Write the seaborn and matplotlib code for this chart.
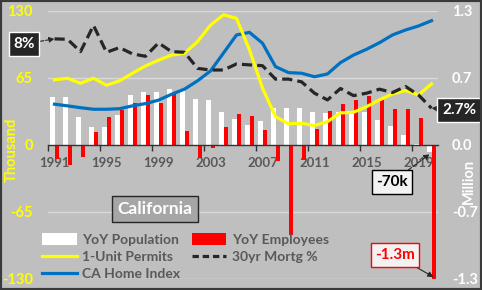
import matplotlib
matplotlib.use("Agg")
import matplotlib.pyplot as plt
import matplotlib.patches as mpatches
import matplotlib.lines as mlines
import numpy as np
import pandas as pd
import seaborn as sns

# ---------------- data ----------------
years = list(range(1991, 2021))
yoy_population = [0.465, 0.465, 0.27, 0.175, 0.175, 0.29, 0.48, 0.51, 0.51, 0.54,
                  0.52, 0.445, 0.435, 0.32, 0.25, 0.195, 0.23, 0.36, 0.36, 0.36,
                  0.32, 0.31, 0.32, 0.30, 0.32, 0.24, 0.18, 0.095, 0.01, -0.07]   # million
yoy_employees = [-0.135, -0.2, -0.12, 0.125, 0.27, 0.34, 0.41, 0.48, 0.41, 0.49,
                 0.135, -0.125, -0.03, 0.175, 0.30, 0.28, 0.145, -0.155, -0.87, -0.145,
                 0.155, 0.33, 0.40, 0.43, 0.47, 0.435, 0.35, 0.35, 0.26, -1.3]   # million
unit_permits = [63, 64.5, 59.7, 64.5, 57.8, 62, 69.4, 76.5, 82, 87,
                88.8, 100, 116, 126, 122.6, 92, 55, 27.4, 20.3, 21,
                18.7, 22.6, 31, 31.6, 37, 43.6, 49.4, 52.6, 48.4, 59]          # thousand
home_index = [0.394, 0.378, 0.36, 0.345, 0.345, 0.35, 0.378, 0.40, 0.433, 0.49,
              0.54, 0.62, 0.716, 0.89, 1.065, 1.09, 0.985, 0.758, 0.70, 0.694,
              0.66, 0.687, 0.797, 0.87, 0.926, 0.99, 1.065, 1.113, 1.152, 1.203]
mortgage_rate = [7.9, 7.87, 6.95, 8.9, 6.9, 7.25, 6.78, 6.6, 7.6, 6.95,
                 6.9, 5.7, 5.58, 5.58, 6.03, 5.96, 5.9, 4.9, 4.9, 4.7,
                 3.85, 3.35, 4.2, 3.67, 3.85, 4.15, 3.9, 4.35, 3.72, 2.73]    # percent

left_ticks = [130, 65, 0, -65, -130]
right_ticks = [1.3, 0.65, 0, -0.65, -1.3]
right_ticklabels = ["1.3", "0.7", "0.0", "-0.7", "-1.3"]
xtick_years = list(range(1991, 2021, 4))

BG = "#bfbfbf"
YEL = "#ffff00"
BLUE = "#0070c0"
RED = "#ff0000"
DARK = "#262626"
GRAYTXT = "#595959"

plt.rcParams["font.family"] = ["Lato", "DejaVu Sans"]

pos = np.arange(len(years))
df = pd.DataFrame({"year": years, "pos": pos, "pop": yoy_population,
                   "emp": yoy_employees, "permits": unit_permits,
                   "home": home_index, "mort": mortgage_rate})
bars = pd.concat([
    pd.DataFrame({"year": years, "val": yoy_population, "series": "YoY Population"}),
    pd.DataFrame({"year": years, "val": yoy_employees, "series": "YoY Employees"}),
])

fig = plt.figure(figsize=(4.82, 2.90), dpi=100, facecolor=BG)
fig.patches.append(mpatches.Rectangle((0, 0), 1, 1, transform=fig.transFigure,
                                      fill=False, edgecolor="#3a3a3a", lw=3, zorder=10))
ax = fig.add_axes([48 / 482, 1 - 279 / 290, 390 / 482, (279 - 10.7) / 290])
ax.set_facecolor(BG)

# bars (million scale)
sns.barplot(data=bars, x="year", y="val", hue="series", ax=ax,
            palette={"YoY Population": "white", "YoY Employees": RED},
            width=0.62, saturation=1, legend=False, errorbar=None, zorder=2)
ax.set_xlim(-0.5, len(years) - 0.5)
ax.set_ylim(-1.3, 1.3)

# grid
for v in [1.3, 0.65, -0.65, -1.3]:
    ax.axhline(v, color="#d9d9d9", lw=1, zorder=0)

# home index on the million scale
sns.lineplot(data=df, x="pos", y="home", ax=ax, color=BLUE, lw=2.3, zorder=4)

# thousand axis (left)
axL = ax.twinx()
axL.set_ylim(-130, 130)
sns.lineplot(data=df, x="pos", y="permits", ax=axL, color=YEL, lw=2.3)

# mortgage rate axis (hidden)
axM = ax.twinx()
axM.set_ylim(-10, 10)
sns.lineplot(data=df, x="pos", y="mort", ax=axM, color=DARK, lw=2.3,
             linestyle=(0, (3.2, 1.6)))

# ---- axis styling (after twins, since twinx moves ticks) ----
for a in (ax, axL, axM):
    a.set_xlabel("")
    a.set_ylabel("")
for s in ["top", "left", "right"]:
    ax.spines[s].set_visible(False)
for a in (axL, axM):
    for s in a.spines.values():
        s.set_visible(False)
ax.spines["bottom"].set_position(("data", 0))
ax.spines["bottom"].set_color("#333333")
ax.spines["bottom"].set_linewidth(1)
ax.spines["bottom"].set_zorder(3)
ax.set_xlim(-0.5, len(years) - 0.5)
ax.set_xticks(np.arange(-0.5, len(years) - 1, 4))
ax.set_xticklabels([])
ax.tick_params(axis="x", which="major", length=4, width=1, color="#333333", direction="out")
ax.set_xticks([years.index(y) for y in xtick_years], minor=True)
ax.set_xticklabels([str(y) for y in xtick_years], minor=True)
ax.tick_params(axis="x", which="minor", length=0, pad=9, labelsize=9.5, labelcolor=GRAYTXT)
for t in ax.get_xticklabels(minor=True):
    t.set_fontweight("bold")

ax.yaxis.tick_right()
ax.set_yticks(right_ticks)
ax.set_yticklabels(right_ticklabels)
ax.tick_params(axis="y", length=0, pad=10, labelsize=10.5, labelcolor="white")
for t in ax.get_yticklabels():
    t.set_fontweight("bold")

axL.yaxis.tick_left()
axL.set_yticks(left_ticks)
axL.set_yticklabels([str(v) for v in left_ticks])
axL.tick_params(axis="y", length=0, pad=11, labelsize=10.5, labelcolor=YEL)
for t in axL.get_yticklabels():
    t.set_fontweight("bold")
axM.set_yticks([])
axL.tick_params(axis="x", which="both", length=0, labelbottom=False)
axM.tick_params(axis="x", which="both", length=0, labelbottom=False)

# axis titles
fig.text(12 / 482, 1 - 150 / 290, "Thousand", rotation=90, color=YEL, fontsize=10.5,
         fontweight="bold", ha="center", va="center")
fig.text(469 / 482, 1 - 181 / 290, "Million", rotation=90, color="white", fontsize=10.5,
         fontweight="bold", ha="center", va="center")

# annotations
n = len(years) - 1
axM.annotate("8%", xy=(0, mortgage_rate[0]), xytext=(24, 246), textcoords="figure pixels",
             ha="center", va="center", color="white", fontsize=11, fontweight="bold",
             bbox=dict(boxstyle="square,pad=0.3", fc=DARK, ec="white", lw=1),
             arrowprops=dict(arrowstyle="-|>", color=DARK, lw=0.8, ls="--",
                             shrinkA=0, shrinkB=0, mutation_scale=8),
             annotation_clip=False, zorder=20)
axM.annotate("2.7%", xy=(n, mortgage_rate[n]), xytext=(459, 180), textcoords="figure pixels",
             ha="center", va="center", color="white", fontsize=11, fontweight="bold",
             bbox=dict(boxstyle="square,pad=0.3", fc=DARK, ec="white", lw=1),
             arrowprops=dict(arrowstyle="-|>", color=DARK, lw=0.8, ls="--",
                             shrinkA=0, shrinkB=0, mutation_scale=8),
             annotation_clip=False, zorder=20)
axM.annotate("-70k", xy=(n - 0.15, -0.7), xytext=(392, 108), textcoords="figure pixels",
             ha="center", va="center", color="black", fontsize=11, fontweight="bold",
             bbox=dict(boxstyle="square,pad=0.3", fc="#f2f2f2", ec="black", lw=1),
             arrowprops=dict(arrowstyle="-|>", color=DARK, lw=0.8, ls="--",
                             shrinkA=0, shrinkB=0, mutation_scale=8),
             annotation_clip=False, zorder=20)
axM.annotate("-1.3m", xy=(n + 0.15, -9.85), xytext=(395, 35), textcoords="figure pixels",
             ha="center", va="center", color=RED, fontsize=11, fontweight="bold",
             bbox=dict(boxstyle="square,pad=0.3", fc="#f2f2f2", ec=RED, lw=1),
             arrowprops=dict(arrowstyle="-|>", color=DARK, lw=0.8,
                             shrinkA=0, shrinkB=0, mutation_scale=8),
             annotation_clip=False, zorder=20)
fig.text(155 / 482, 1 - 209 / 290, "California", color="white", fontsize=12.5,
         fontweight="bold", ha="center", va="center",
         bbox=dict(boxstyle="square,pad=0.3", fc="#a6a6a6", ec=DARK, lw=1))

# legend
handles = [
    mpatches.Patch(fc="white", ec="none", label="YoY Population"),
    mlines.Line2D([], [], color=YEL, lw=2.3, label="1-Unit Permits"),
    mlines.Line2D([], [], color=BLUE, lw=2.3, label="CA Home Index"),
    mpatches.Patch(fc=RED, ec="none", label="YoY Employees"),
    mlines.Line2D([], [], color=DARK, lw=2.3, ls=(0, (2, 1.2)), label="30yr Mortg %"),
]
leg = fig.legend(handles=handles, ncol=2, frameon=False, loc="upper left",
                 bbox_to_anchor=(42 / 482, 1 - 233 / 290),
                 prop=dict(weight="bold", size=10), labelcolor=GRAYTXT,
                 handlelength=2.5, handleheight=0.9, handletextpad=0.4,
                 columnspacing=0.8, labelspacing=0.35, borderaxespad=0, borderpad=0)

fig.savefig("out.png", dpi=100, facecolor=BG)
